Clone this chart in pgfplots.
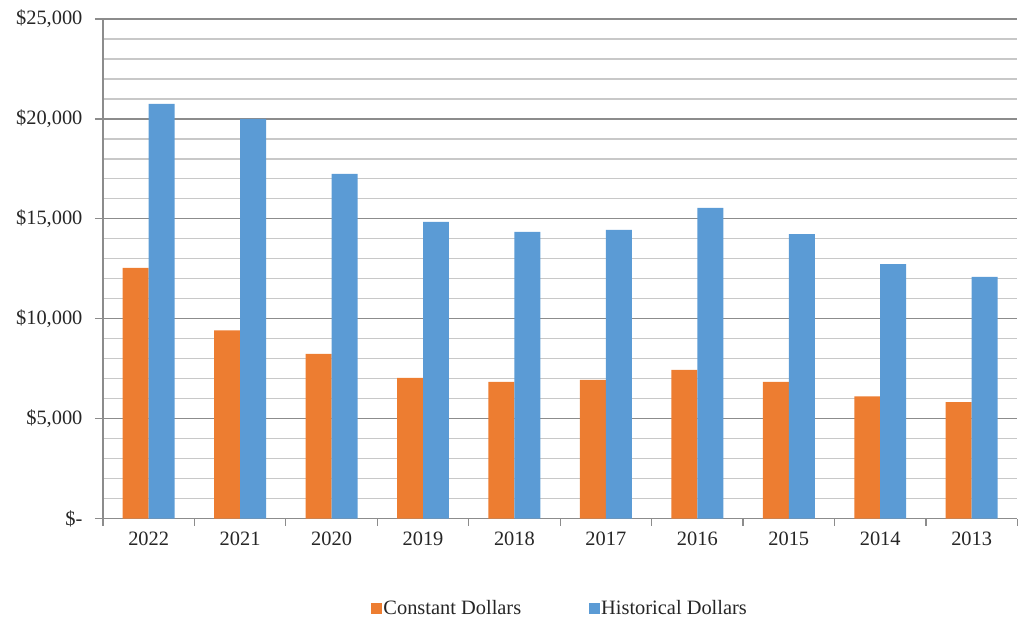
\documentclass[border=0pt]{standalone}
\usepackage{pgfplots}
\pgfplotsset{compat=1.18}
\usepackage{fontspec}
\setmainfont{Liberation Serif}
\definecolor{corange}{HTML}{ED7D31}
\definecolor{cblue}{HTML}{5B9BD5}
\definecolor{majgrid}{HTML}{8C8C8C}
\definecolor{mingrid}{HTML}{C8C8C8}
\begin{document}
\begin{tikzpicture}
\begin{axis}[
  name=ax,
  scale only axis,
  width=915bp, height=500bp,
  xmin=-0.5, xmax=9.5,
  ymin=0, ymax=25000,
  scaled y ticks=false,
  ybar=0pt, bar width=26bp,
  xtick={0,...,9},
  xticklabels={2022,2021,2020,2019,2018,2017,2016,2015,2014,2013},
  minor xtick={-0.5,0.5,...,9.5},
  ytick={0,5000,10000,15000,20000,25000},
  yticklabels={\$-,\$5{,}000,\$10{,}000,\$15{,}000,\$20{,}000,\$25{,}000},
  minor ytick={1000,2000,3000,4000,6000,7000,8000,9000,11000,12000,13000,14000,16000,17000,18000,19000,21000,22000,23000,24000},
  ymajorgrids, yminorgrids,
  major grid style={majgrid, line width=1.2bp},
  minor grid style={mingrid, line width=1.2bp},
  axis x line*=bottom, axis y line*=left,
  axis line style={majgrid, line width=1.2bp, -},
  tick style={majgrid, line width=1.2bp},
  major x tick style={draw=none},
  minor x tick style={majgrid, line width=1.2bp},
  minor y tick style={draw=none},
  tick align=outside,
  major tick length=8bp, minor tick length=7bp,
  ticklabel style={font=\fontsize{20.5}{24}\selectfont, text=black!85},
  yticklabel style={xshift=-9bp},
  xticklabel style={yshift=-2bp},
  legend style={
    at={(0.5,-0.18)}, anchor=center, draw=none,
    legend columns=2, font=\fontsize{20.5}{24}\selectfont, text=black!85,
    /tikz/every even column/.append style={column sep=66bp},
  },
  legend image code/.code={\fill[#1] (0bp,-5.5bp) rectangle (11bp,5.5bp);},
  clip=false,
]
\addplot[fill=corange, draw=none] coordinates {
  (0,12550) (1,9420) (2,8250) (3,7050) (4,6850) (5,6950) (6,7450) (7,6850) (8,6120) (9,5830)};
\addlegendentry{\kern-1bp Constant Dollars}
\addplot[fill=cblue, draw=none] coordinates {
  (0,20750) (1,20000) (2,17250) (3,14850) (4,14350) (5,14450) (6,15550) (7,14240) (8,12730) (9,12100)};
\addlegendentry{\kern-1bp Historical Dollars}
\end{axis}
\path[use as bounding box] (ax.south west) ++(-103bp,-107bp) rectangle ++(1018bp,626bp);
\end{tikzpicture}
\end{document}
